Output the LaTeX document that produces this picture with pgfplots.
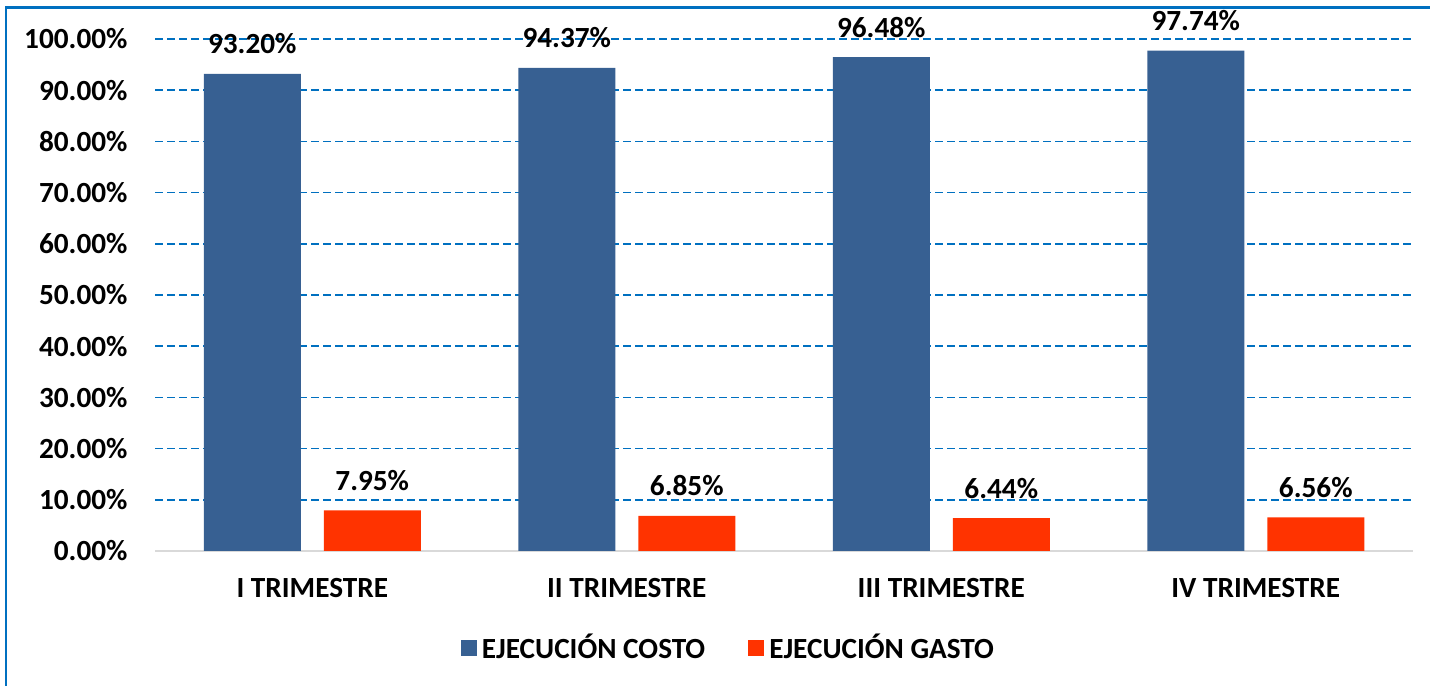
\documentclass[border=0pt]{standalone}
\usepackage{pgfplots}
\pgfplotsset{compat=1.18}
\usepackage{fontspec}
\setmainfont{Carlito}
\definecolor{costo}{RGB}{55,96,146}
\definecolor{gasto}{RGB}{255,51,0}
\definecolor{gridblue}{RGB}{0,112,192}
\newcommand{\lblfont}{\bfseries\fontsize{11.7}{13.5}\selectfont}
\begin{document}
\begin{tikzpicture}
\useasboundingbox (0pt,0pt) rectangle (572pt,274.4pt);
\draw[gridblue, line width=1pt] (2.4pt,0pt) -- (2.4pt,271.4pt) -- (572pt,271.4pt);
\begin{axis}[
  at={(62pt,54pt)}, anchor=south west,
  scale only axis, width=503.2pt, height=204.8pt,
  xmin=-0.5, xmax=3.5, ymin=0, ymax=100,
  clip=false,
  ybar, bar width=38.8pt,
  xtick={0,1,2,3},
  xticklabels={I TRIMESTRE, II TRIMESTRE, III TRIMESTRE, IV TRIMESTRE},
  ytick={10,20,...,100},
  yticklabel={\pgfmathprintnumber[fixed,fixed zerofill,precision=2,assume math mode=true]{\tick}\%},
  axis line style={draw=none},
  major tick length=0pt,
  tick style={draw=none},
  ymajorgrids,
  major grid style={gridblue, line width=0.6pt, dash pattern=on 3.2pt off 1.6pt},
  extra y ticks={0},
  extra y tick style={major grid style={solid, black!15, line width=0.9pt}},
  yticklabel style={font=\lblfont, anchor=east, inner sep=0pt, xshift=-10.8pt},
  xticklabel style={font=\lblfont, anchor=base, inner sep=0pt, yshift=-18.8pt},
  nodes near coords={\pgfmathprintnumber[fixed,fixed zerofill,precision=2,assume math mode=true]{\pgfplotspointmeta}\%},
  nodes near coords style={font=\lblfont, anchor=base, inner sep=0pt, yshift=8pt, black},
  legend style={at={(0.457,-0.189)}, anchor=center, draw=none, fill=none,
    legend columns=2, font=\lblfont,
    /tikz/every even column/.append style={column sep=15.2pt}},
  legend image code/.code={\fill[#1] (0pt,-3.2pt) rectangle (6.4pt,3.2pt);},
]
\addplot[fill=costo, draw=none, bar shift=-24pt] coordinates {(0,93.20) (1,94.37) (2,96.48) (3,97.74)};
\addplot[fill=gasto, draw=none, bar shift=24pt] coordinates {(0,7.95) (1,6.85) (2,6.44) (3,6.56)};
\legend{EJECUCIÓN COSTO, EJECUCIÓN GASTO}
\end{axis}
\end{tikzpicture}
\end{document}
